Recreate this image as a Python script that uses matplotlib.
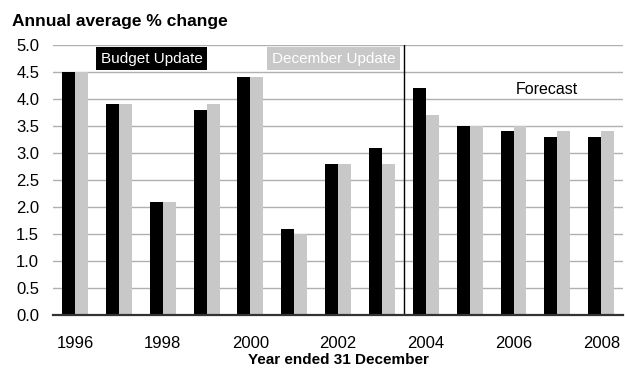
import matplotlib
matplotlib.use("Agg")
import matplotlib.pyplot as plt
import numpy as np

plt.rcParams['font.family'] = ['Liberation Sans', 'DejaVu Sans']

years = [1996, 1997, 1998, 1999, 2000, 2001, 2002, 2003, 2004, 2005, 2006, 2007, 2008]
budget_update = [4.5, 3.9, 2.1, 3.8, 4.4, 1.6, 2.8, 3.1, 4.2, 3.5, 3.4, 3.3, 3.3]
december_update = [4.5, 3.9, 2.1, 3.9, 4.4, 1.5, 2.8, 2.8, 3.7, 3.5, 3.5, 3.4, 3.4]
forecast_start = 2004

black = '#000000'
grey = '#c8c8c8'

fig = plt.figure(figsize=(6.25, 3.69), dpi=100)
ax = fig.add_axes([0.085, 0.145, 0.912, 0.734])

x = np.arange(len(years))
w = 0.295
ax.bar(x - w / 2, budget_update, width=w, color=black, zorder=3)
ax.bar(x + w / 2, december_update, width=w, color=grey, zorder=3)

# forecast divider between the last actual year and the first forecast
split = years.index(forecast_start) - 0.5
ax.axvline(split, color='black', linewidth=1.0, zorder=4)

ax.set_xlim(-0.5, len(years) - 0.5)
ax.set_ylim(0, 5)
ax.set_yticks(np.arange(0, 5.01, 0.5))
ax.set_yticklabels([f"{v:.1f}" for v in np.arange(0, 5.01, 0.5)], fontsize=12)
ax.set_xticks(x[::2])
ax.set_xticklabels([str(y) for y in years[::2]], fontsize=12)
ax.tick_params(length=0)
ax.tick_params(axis='x', pad=15)
ax.tick_params(axis='y', pad=10)

ax.yaxis.grid(True, color='#b0b0b0', linewidth=1.0, zorder=0)
for s in ['top', 'right', 'left']:
    ax.spines[s].set_visible(False)
ax.spines['bottom'].set_color('#333333')
ax.spines['bottom'].set_linewidth(1.6)
ax.spines['bottom'].set_zorder(5)

ax.set_xlabel('Year ended 31 December', fontsize=11, fontweight='bold', labelpad=1)
fig.text(0.019, 0.943, 'Annual average % change', fontsize=12.5, fontweight='bold',
         va='center', ha='left')

# legend labels as filled boxes
ax.text(1.75, 4.74, 'Budget Update', color='white', fontsize=11, va='center', ha='center',
        bbox=dict(boxstyle='square,pad=0.3', fc=black, ec='none'), zorder=6)
ax.text(5.9, 4.74, 'December Update', color='white', fontsize=11, va='center', ha='center',
        bbox=dict(boxstyle='square,pad=0.3', fc=grey, ec='none'), zorder=6)
ax.text(10.75, 4.18, 'Forecast', color='black', fontsize=11.5, va='center', ha='center', zorder=6)

fig.savefig('out.png', dpi=100)
